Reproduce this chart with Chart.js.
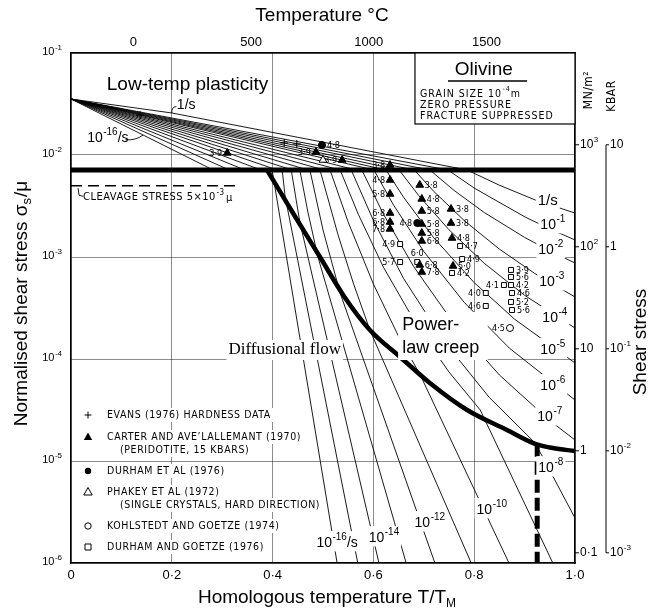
<!DOCTYPE html>
<html>
<head>
<meta charset="utf-8">
<script src="https://cdn.jsdelivr.net/npm/chart.js@4"></script>
<style>
  html, body { margin: 0; padding: 0; background: #fff; }
  canvas { display: block; }
</style>
</head>
<body>
<canvas id="map" width="651" height="612"></canvas>
<script>
// Deformation map for olivine: x = T/T_M, y = log10(shear stress / mu)

// axes
const xTicks = [0, 0.2, 0.4, 0.6, 0.8, 1.0];
const yTicks = [1e-6, 1e-5, 1e-4, 1e-3, 1e-2, 1e-1];
const tempTicks = [0, 500, 1000, 1500];        // deg C, top axis
const mnTicks = [0.1, 1, 10, 100, 1000];       // MN/m^2, right axis
const kbarTicks = [1e-3, 1e-2, 1e-1, 1, 10];   // kbar, outer right axis
const meltK = 2140;                             // T_M in K
const muMN = 79430;                             // shear modulus, MN/m^2

// strain-rate contours, [T/TM, log10(sigma/mu)], 1/s down to 1e-16/s
const c00 = [[0,-1.451],[0.200,-1.588],[0.786,-2.147],[0.849,-2.294],[0.921,-2.441],[1,-2.569]];
const c01 = [[0,-1.451],[0.748,-2.147],[0.800,-2.324],[0.901,-2.608],[0.950,-2.725],[1,-2.833]];
const c02 = [[0,-1.451],[0.712,-2.147],[0.76,-2.347],[0.82,-2.564],[0.9,-2.808],[0.95,-2.94],[1,-3.059]];
const c03 = [[0,-1.451],[0.681,-2.147],[0.72,-2.358],[0.78,-2.642],[0.85,-2.923],[0.92,-3.161],[1,-3.392]];
const c04 = [[0,-1.451],[0.651,-2.147],[0.69,-2.398],[0.75,-2.733],[0.82,-3.062],[0.9,-3.375],[1,-3.696]];
const c05 = [[0,-1.451],[0.625,-2.147],[0.66,-2.415],[0.72,-2.813],[0.8,-3.251],[0.88,-3.609],[1,-4.039]];
const c06 = [[0,-1.451],[0.601,-2.147],[0.64,-2.491],[0.7,-2.946],[0.78,-3.444],[0.87,-3.894],[1,-4.402]];
const c07 = [[0,-1.451],[0.566,-2.147],[0.577,-2.147],[0.62,-2.581],[0.68,-3.095],[0.76,-3.654],[0.85,-4.157],[0.95,-4.604],[1,-4.794]];
const c08 = [[0,-1.451],[0.534,-2.147],[0.556,-2.147],[0.6,-2.642],[0.66,-3.211],[0.74,-3.826],[0.83,-4.377],[0.921,-4.824],[1,-5.559]];
const c09 = [[0,-1.451],[0.502,-2.147],[0.534,-2.147],[0.57,-2.581],[0.62,-3.101],[0.69,-3.702],[0.75,-4.128],[0.812,-4.5],[0.956,-6]];
const c10 = [[0,-1.451],[0.470,-2.147],[0.514,-2.147],[0.55,-2.658],[0.6,-3.265],[0.65,-3.779],[0.693,-4.157],[0.869,-6]];
const c11 = [[0,-1.451],[0.439,-2.147],[0.494,-2.147],[0.53,-2.785],[0.56,-3.254],[0.593,-3.716],[0.794,-6]];
const c12 = [[0,-1.451],[0.409,-2.147],[0.474,-2.147],[0.5,-2.735],[0.534,-3.353],[0.722,-6]];
const c13 = [[0,-1.451],[0.377,-2.147],[0.454,-2.147],[0.470,-2.559],[0.490,-3.0],[0.665,-6]];
const c14 = [[0,-1.451],[0.345,-2.147],[0.437,-2.147],[0.454,-2.657],[0.611,-6]];
const c15 = [[0,-1.451],[0.314,-2.147],[0.419,-2.147],[0.425,-2.412],[0.569,-6]];
const c16 = [[0,-1.451],[0.282,-2.147],[0.399,-2.147],[0.528,-6]];
const contourLines = [c00, c01, c02, c03, c04, c05, c06, c07, c08, c09, c10, c11, c12, c13, c14, c15, c16];

// contour labels and where they sit
const rateLabels = ['1/s', '-1', '-2', '-3', '-4', '-5', '-6', '-7', '-8', '-10', '-12', '-14', '-16'];
const rateLabelAt = [[0.946,-2.451],[0.956,-2.686],[0.952,-2.931],[0.954,-3.245],[0.960,-3.598],[0.956,-3.912],
  [0.956,-4.265],[0.950,-4.569],[0.952,-5.069],[0.835,-5.480],[0.712,-5.608],[0.621,-5.755],[0.528,-5.804]];

// field boundaries
const plasticityBound = [[0,-2.147],[1,-2.147]];
const cleavageLine = [[0,-2.301],[0.335,-2.301]];
const diffusionBound = [[0.389,-2.147],[0.444,-2.598],[0.494,-3.0],[0.544,-3.402],[0.593,-3.716],[0.653,-3.980],
  [0.712,-4.235],[0.786,-4.500],[0.865,-4.696],[0.917,-4.824],[0.956,-4.873],[1,-4.902]];
const grainBound = [[0.925,-4.83],[0.925,-6]];

// experimental points
const evansPts = [[0.137,-1.608],[0.423,-1.882],[0.448,-1.892]];
const carterPts = [[0.310,-1.980],[0.486,-1.971],[0.538,-2.049],[0.633,-2.098],[0.633,-2.245],[0.633,-2.382],
  [0.633,-2.569],[0.633,-2.657],[0.633,-2.725],[0.692,-2.294],[0.696,-2.431],[0.696,-2.549],[0.696,-2.676],
  [0.696,-2.765],[0.696,-2.843],[0.692,-3.078],[0.696,-3.147],[0.754,-2.529],[0.754,-2.667],[0.756,-2.814],[0.758,-3.088]];
const carterTxt = ['3·9','3·9','3·9','3·8','4·8','5·8','6·8','6·8','7·8','3·8','4·8','5·8','5·8','5·8','6·8','6·8','7·8','3·8','3·8','4·8','5·0'];
const carterSide = 'lllllllllrrrrrrrrrrrr';
const durhamPts = [[0.498,-1.902],[0.687,-2.667]];
const durhamTxt = ['4·8','4·8'];
const durhamSide = 'rl';
const phakeyPts = [[0.500,-2.049]];
const kohlPts = [[0.871,-3.696]];
const kohlTxt = ['4·5'];
const kohlSide = 'l';
const dgPts = [[0.653,-2.873],[0.653,-3.049],[0.687,-3.049],[0.772,-2.892],[0.776,-3.020],[0.756,-3.157],
  [0.873,-3.127],[0.873,-3.196],[0.859,-3.275],[0.873,-3.275],[0.823,-3.353],[0.875,-3.353],[0.823,-3.480],
  [0.873,-3.441],[0.875,-3.520]];
const dgTxt = ['4·9','5·7','6·0','4·7','4·9','4·2','3·9','5·6','4·1','4·2','4·0','4·6','4·6','5·2','5·6'];
const dgSide = 'lltrrrrrlrlrlrr';

const legendRows = [
  ['cross', 'EVANS (1976) HARDNESS DATA'],
  ['tri', 'CARTER AND AVE\u2019LALLEMANT (1970)', '(PERIDOTITE, 15 KBARS)'],
  ['dot', 'DURHAM ET AL (1976)'],
  ['otri', 'PHAKEY ET AL (1972)', '(SINGLE CRYSTALS, HARD DIRECTION)'],
  ['ring', 'KOHLSTEDT AND GOETZE (1974)'],
  ['box', 'DURHAM AND GOETZE (1976)']
];

const SANS = '"Liberation Sans", Arial, sans-serif';
const TECH = '"DejaVu Sans Condensed", "DejaVu Sans", sans-serif';

function toXY(list) {
  return list.map(p => ({ x: p[0], y: Math.pow(10, p[1]) }));
}

function lineSet(list, width, order, dash) {
  return {
    data: toXY(list), showLine: true, borderColor: '#000', borderWidth: width,
    borderDash: dash || [], pointRadius: 0, tension: 0, order: order,
    xAxisID: 'x', yAxisID: 'y'
  };
}

function markSet(list, style, fill, radius) {
  return {
    data: toXY(list), showLine: false, pointStyle: style, pointRadius: radius,
    pointBackgroundColor: fill, pointBorderColor: '#000', pointBorderWidth: 1,
    order: 1, xAxisID: 'x', yAxisID: 'y'
  };
}

// "10" with a raised exponent, optional tail text
function powText(ctx, base, exp, tail, x, y, size, align, opts) {
  opts = opts || {};
  const fam = opts.family || SANS;
  const es = opts.expSize || Math.round(size * 0.68);
  const fb = size + 'px ' + fam, fe = es + 'px ' + fam;
  ctx.font = fb;
  const wb = ctx.measureText(base).width;
  const wt = tail ? ctx.measureText(tail).width : 0;
  ctx.font = fe;
  const we = exp ? ctx.measureText(exp).width + 0.5 : 0;
  const w = wb + we + wt;
  const x0 = align === 'right' ? x - w : align === 'center' ? x - w / 2 : x;
  if (opts.bg) {
    ctx.fillStyle = '#fff';
    ctx.fillRect(x0 - 2, y - size * 0.85, w + 4, size * 1.45);
  }
  ctx.fillStyle = '#000';
  ctx.textAlign = 'left';
  ctx.textBaseline = 'middle';
  ctx.font = fb;
  ctx.fillText(base, x0, y);
  if (exp) { ctx.font = fe; ctx.fillText(exp, x0 + wb + 0.5, y - size * 0.42); }
  if (tail) { ctx.font = fb; ctx.fillText(tail, x0 + wb + we, y); }
  return w;
}

function legendMark(ctx, kind, x, y) {
  ctx.save();
  ctx.strokeStyle = '#000';
  ctx.fillStyle = '#000';
  ctx.lineWidth = 1;
  ctx.beginPath();
  if (kind === 'cross') {
    ctx.moveTo(x - 3.5, y); ctx.lineTo(x + 3.5, y);
    ctx.moveTo(x, y - 3.5); ctx.lineTo(x, y + 3.5);
    ctx.stroke();
  } else if (kind === 'tri' || kind === 'otri') {
    ctx.moveTo(x, y - 4.5); ctx.lineTo(x + 4.2, y + 3); ctx.lineTo(x - 4.2, y + 3); ctx.closePath();
    if (kind === 'tri') ctx.fill(); else ctx.stroke();
  } else if (kind === 'dot' || kind === 'ring') {
    ctx.arc(x, y, 3.2, 0, Math.PI * 2);
    if (kind === 'dot') ctx.fill(); else ctx.stroke();
  } else {
    ctx.rect(x - 3, y - 3, 6, 6);
    ctx.stroke();
  }
  ctx.restore();
}

const annotate = {
  id: 'annotate',
  afterDraw(chart) {
    const ctx = chart.ctx, a = chart.chartArea;
    const sx = chart.scales.x, sy = chart.scales.y;
    const X = v => sx.getPixelForValue(v);
    const Y = l => sy.getPixelForValue(Math.pow(10, l));
    ctx.save();

    // labels next to the experimental points
    const pointLabels = (pts, txt, side) => {
      ctx.font = '9px ' + TECH;
      ctx.fillStyle = '#000';
      ctx.textBaseline = 'middle';
      pts.forEach((p, i) => {
        const px = X(p[0]), py = Y(p[1]), s = side[i];
        if (s === 'l') { ctx.textAlign = 'right'; ctx.fillText(txt[i], px - 5, py + 1); }
        else if (s === 'r') { ctx.textAlign = 'left'; ctx.fillText(txt[i], px + 5, py + 1); }
        else { ctx.textAlign = 'center'; ctx.fillText(txt[i], px, py - 8); }
      });
    };
    pointLabels(carterPts, carterTxt, carterSide);
    pointLabels(durhamPts, durhamTxt, durhamSide);
    pointLabels(kohlPts, kohlTxt, kohlSide);
    pointLabels(dgPts, dgTxt, dgSide);

    // strain-rate labels, with a white gap in the contour
    rateLabels.forEach((t, i) => {
      const px = X(rateLabelAt[i][0]), py = Y(rateLabelAt[i][1]);
      if (t === '1/s') {
        ctx.font = '15px ' + SANS;
        const w = ctx.measureText(t).width;
        ctx.fillStyle = '#fff';
        ctx.fillRect(px - w / 2 - 2, py - 9, w + 4, 18);
        ctx.fillStyle = '#000';
        ctx.textAlign = 'center';
        ctx.textBaseline = 'middle';
        ctx.fillText(t, px, py);
      } else {
        powText(ctx, '10', t, t === '-16' ? '/s' : '', px, py, 14, 'center', { bg: true, expSize: 10 });
      }
    });

    // low-temperature fan labels
    ctx.strokeStyle = '#000';
    ctx.lineWidth = 0.9;
    ctx.font = '14px ' + SANS;
    ctx.textAlign = 'left';
    ctx.textBaseline = 'middle';
    ctx.fillStyle = '#000';
    ctx.fillText('1/s', X(0.210), Y(-1.510));
    ctx.beginPath();
    ctx.moveTo(X(0.209), Y(-1.525));
    ctx.quadraticCurveTo(X(0.199), Y(-1.530), X(0.200), Y(-1.588));
    ctx.stroke();
    powText(ctx, '10', '-16', '/s', X(0.032), Y(-1.833), 14, 'left', { expSize: 10 });
    ctx.beginPath();
    ctx.moveTo(X(0.108), Y(-1.850));
    ctx.quadraticCurveTo(X(0.128), Y(-1.860), X(0.143), Y(-1.804));
    ctx.stroke();

    // cleavage note
    ctx.letterSpacing = '0.5px';
    ctx.font = '11px ' + TECH;
    ctx.fillText('CLEAVAGE STRESS 5\u00d710', X(0.024), Y(-2.412));
    const wc = ctx.measureText('CLEAVAGE STRESS 5\u00d710').width;
    ctx.font = '8px ' + TECH;
    ctx.fillText('-3', X(0.024) + wc + 0.5, Y(-2.412) - 4);
    ctx.font = '11px ' + TECH;
    ctx.fillText('\u03bc', X(0.024) + wc + 10, Y(-2.412) + 1);
    ctx.letterSpacing = '0px';
    ctx.beginPath();
    ctx.moveTo(X(0.014), Y(-2.325));
    ctx.lineTo(X(0.016), Y(-2.395));
    ctx.lineTo(X(0.024), Y(-2.405));
    ctx.stroke();

    // field names
    ctx.fillStyle = '#000';
    ctx.font = '19px ' + SANS;
    ctx.textAlign = 'left';
    ctx.fillText('Low-temp plasticity', X(0.071), Y(-1.314));

    ctx.font = '17px "Liberation Serif", "DejaVu Serif", serif';
    ctx.textAlign = 'center';
    const wd = ctx.measureText('Diffusional flow').width;
    ctx.fillStyle = '#fff';
    ctx.fillRect(X(0.424) - wd / 2 - 2, Y(-3.912) - 10, wd + 4, 20);
    ctx.fillStyle = '#000';
    ctx.fillText('Diffusional flow', X(0.424), Y(-3.912));

    ctx.fillStyle = '#fff';
    ctx.fillRect(X(0.649), Y(-3.539), X(0.827) - X(0.649), Y(-4.010) - Y(-3.539));
    ctx.fillStyle = '#000';
    ctx.font = '18px ' + SANS;
    ctx.textAlign = 'left';
    ctx.fillText('Power-', X(0.657), Y(-3.667));
    ctx.fillText('law creep', X(0.657), Y(-3.892));

    // material box
    const bx = X(0.6825), by = Y(-1.696);
    ctx.fillStyle = '#fff';
    ctx.fillRect(bx, a.top, a.right - bx, by - a.top);
    ctx.strokeStyle = '#000';
    ctx.lineWidth = 1.2;
    ctx.strokeRect(bx, a.top, a.right - bx, by - a.top);
    ctx.fillStyle = '#000';
    ctx.font = '19px ' + SANS;
    ctx.textAlign = 'center';
    ctx.fillText('Olivine', X(0.819), a.top + 17);
    ctx.lineWidth = 1.3;
    ctx.beginPath();
    ctx.moveTo(X(0.748), a.top + 28);
    ctx.lineTo(X(0.905), a.top + 28);
    ctx.stroke();
    const tx = bx + 5;
    ctx.letterSpacing = '1px';
    powText(ctx, 'GRAIN SIZE 10', '-4', 'm', tx, a.top + 41, 10.5, 'left', { family: TECH, expSize: 7 });
    ctx.font = '10.5px ' + TECH;
    ctx.textAlign = 'left';
    ctx.fillText('ZERO PRESSURE', tx, a.top + 52);
    ctx.fillText('FRACTURE SUPPRESSED', tx, a.top + 63);

    // legend, lower left
    ctx.letterSpacing = '0.6px';
    const rowOff = [362, 384, 418, 439, 473, 494];
    legendRows.forEach((r, i) => {
      const ry = a.top + rowOff[i];
      ctx.font = '10.5px ' + TECH;
      const w1 = ctx.measureText(r[1]).width;
      ctx.fillStyle = '#fff';
      ctx.fillRect(a.left + 10, ry - 7, w1 + 30, 14);
      if (r[2]) {
        const w2 = ctx.measureText(r[2]).width;
        ctx.fillRect(a.left + 46, ry + 6, w2 + 6, 14);
      }
      legendMark(ctx, r[0], a.left + 17, ry);
      ctx.fillStyle = '#000';
      ctx.textAlign = 'left';
      ctx.fillText(r[1], a.left + 36, ry + 0.5);
      if (r[2]) ctx.fillText(r[2], a.left + 49, ry + 13.5);
    });
    ctx.letterSpacing = '0px';

    // left tick labels
    yTicks.forEach(v => {
      powText(ctx, '10', String(Math.round(Math.log10(v))), '', a.left - 9, sy.getPixelForValue(v) - 1, 11, 'right', { expSize: 8 });
    });
    // bottom tick labels
    ctx.font = '13px ' + SANS;
    ctx.textAlign = 'center';
    ctx.textBaseline = 'middle';
    ctx.fillStyle = '#000';
    xTicks.forEach(v => {
      const t = v === 0 ? '0' : v.toFixed(1).replace('.', '\u00b7');
      ctx.fillText(t, X(v), a.bottom + 12);
    });
    // top: temperature in deg C
    const st = chart.scales.xTop;
    tempTicks.forEach(v => ctx.fillText(String(v), st.getPixelForValue(v) - 2, a.top - 11));

    // right: MN/m^2
    const sm = chart.scales.yMN;
    ctx.lineWidth = 1;
    mnTicks.forEach(v => {
      const ty = sm.getPixelForValue(v);
      ctx.beginPath();
      ctx.moveTo(a.right, ty);
      ctx.lineTo(a.right + 4, ty);
      ctx.stroke();
      const e = Math.round(Math.log10(v));
      if (e >= 2) powText(ctx, '10', String(e), '', a.right + 5, ty, 12, 'left', { expSize: 8 });
      else {
        ctx.font = '12px ' + SANS;
        ctx.textAlign = 'left';
        ctx.fillText(v < 1 ? '0\u00b71' : String(v), a.right + 5, ty);
      }
    });
    // right: kbar
    const sk = chart.scales.yKbar;
    const kx = a.right + 31;
    ctx.beginPath();
    ctx.moveTo(kx, sk.getPixelForValue(10));
    ctx.lineTo(kx, sk.getPixelForValue(1e-3));
    ctx.stroke();
    kbarTicks.forEach(v => {
      const ty = sk.getPixelForValue(v);
      ctx.beginPath();
      ctx.moveTo(kx, ty);
      ctx.lineTo(kx + 3, ty);
      ctx.stroke();
      const e = Math.round(Math.log10(v));
      if (e < 0) powText(ctx, '10', String(e), '', kx + 4, ty, 12, 'left', { expSize: 8 });
      else {
        ctx.font = '12px ' + SANS;
        ctx.textAlign = 'left';
        ctx.fillText(String(v), kx + 4, ty);
      }
    });

    // axis titles
    ctx.fillStyle = '#000';
    ctx.textAlign = 'center';
    ctx.textBaseline = 'middle';
    ctx.font = '19px ' + SANS;
    ctx.fillText('Temperature \u00b0C', 322, 16);
    ctx.fillText('Homologous temperature T/T', 322, 598);
    const wh = ctx.measureText('Homologous temperature T/T').width;
    ctx.font = '12px ' + SANS;
    ctx.fillText('M', 322 + wh / 2 + 5, 604);

    ctx.save();
    ctx.translate(22, 304);
    ctx.rotate(-Math.PI / 2);
    ctx.font = '19px ' + SANS;
    const wn = ctx.measureText('Normalised shear stress \u03c3').width;
    const wn2 = ctx.measureText('/\u03bc').width;
    ctx.font = '13px ' + SANS;
    const ws = ctx.measureText('s').width;
    const n0 = -(wn + ws + wn2) / 2;
    ctx.textAlign = 'left';
    ctx.font = '19px ' + SANS;
    ctx.fillText('Normalised shear stress \u03c3', n0, 0);
    ctx.font = '13px ' + SANS;
    ctx.fillText('s', n0 + wn, 5);
    ctx.font = '19px ' + SANS;
    ctx.fillText('/\u03bc', n0 + wn + ws + 1, 0);
    ctx.restore();

    ctx.save();
    ctx.translate(641, 342);
    ctx.rotate(-Math.PI / 2);
    ctx.font = '19px ' + SANS;
    ctx.textAlign = 'center';
    ctx.fillText('Shear stress', 0, 0);
    ctx.restore();

    ctx.save();
    ctx.translate(589, 90);
    ctx.rotate(-Math.PI / 2);
    ctx.font = '12px ' + TECH;
    ctx.letterSpacing = '0.5px';
    ctx.textAlign = 'center';
    ctx.fillText('MN/m\u00b2', 0, 0);
    ctx.restore();
    ctx.save();
    ctx.translate(612, 96);
    ctx.rotate(-Math.PI / 2);
    ctx.font = '12px ' + TECH;
    ctx.letterSpacing = '0.5px';
    ctx.textAlign = 'center';
    ctx.fillText('KBAR', 0, 0);
    ctx.restore();

    ctx.restore();
  }
};

const datasets = [];
datasets.push(markSet(carterPts, 'triangle', '#000', 4.5));
datasets.push(markSet(durhamPts, 'circle', '#000', 3.5));
datasets.push(markSet(phakeyPts, 'triangle', '#fff', 4.5));
datasets.push(markSet(kohlPts, 'circle', '#fff', 3.5));
datasets.push(markSet(dgPts, 'rect', '#fff', 3.5));
datasets.push(markSet(evansPts, 'cross', '#000', 4));
datasets.push(lineSet(plasticityBound, 5, 2));
datasets.push(lineSet(cleavageLine, 1.5, 2, [11, 6]));
datasets.push(Object.assign(lineSet(diffusionBound, 4.5, 2), { cubicInterpolationMode: 'monotone' }));
datasets.push(lineSet(grainBound, 5, 2, [13, 5]));
contourLines.forEach(c => datasets.push(lineSet(c, 0.9, 3)));

const gridColor = 'rgba(0,0,0,0.45)';

new Chart(document.getElementById('map'), {
  type: 'scatter',
  data: { datasets: datasets },
  options: {
    responsive: false,
    animation: false,
    events: [],
    layout: { padding: 0 },
    plugins: { legend: { display: false }, tooltip: { enabled: false } },
    scales: {
      x: {
        type: 'linear', position: 'bottom', min: 0, max: 1,
        afterBuildTicks: s => { s.ticks = xTicks.map(v => ({ value: v })); },
        afterFit: s => { s.height = 49; },
        ticks: { display: false },
        grid: { color: gridColor, lineWidth: 1, drawTicks: false },
        border: { color: '#000', width: 1.5 }
      },
      y: {
        type: 'logarithmic', position: 'left', min: 1e-6, max: 1e-1,
        afterBuildTicks: s => { s.ticks = yTicks.map(v => ({ value: v })); },
        afterFit: s => { s.width = 71; },
        ticks: { display: false },
        grid: { color: gridColor, lineWidth: 1, drawTicks: false },
        border: { color: '#000', width: 1.5 }
      },
      xTop: {
        type: 'linear', position: 'top', min: -273, max: meltK - 273,
        afterFit: s => { s.height = 53; },
        ticks: { display: false },
        grid: { display: false },
        border: { color: '#000', width: 1.5 }
      },
      yMN: {
        type: 'logarithmic', position: 'right', weight: 0,
        min: muMN * 1e-6, max: muMN * 1e-1,
        afterFit: s => { s.width = 31; },
        ticks: { display: false },
        grid: { display: false },
        border: { color: '#000', width: 1.5 }
      },
      yKbar: {
        type: 'logarithmic', position: 'right', weight: 1,
        min: muMN * 1e-8, max: muMN * 1e-3,
        afterFit: s => { s.width = 45; },
        ticks: { display: false },
        grid: { display: false },
        border: { display: false }
      }
    }
  },
  plugins: [annotate]
});
</script>
</body>
</html>
